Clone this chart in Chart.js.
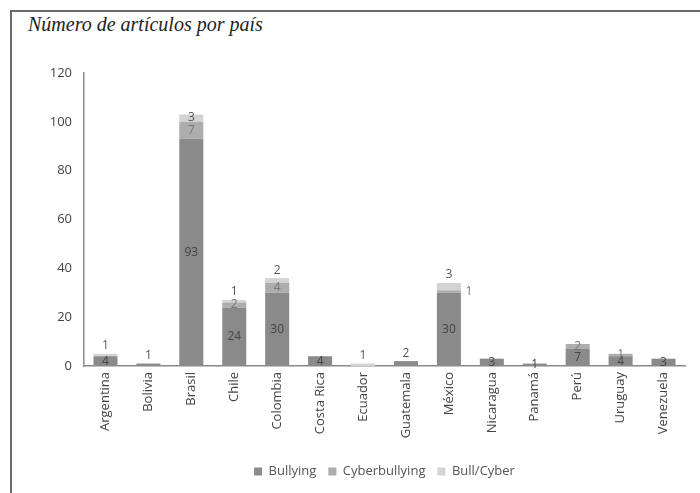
<!DOCTYPE html>
<html>
<head>
<meta charset="utf-8">
<script src="https://cdn.jsdelivr.net/npm/chart.js@4.4.0/dist/chart.umd.min.js"></script>
<style>
  html, body { margin: 0; padding: 0; background: #fff; }
  #wrap { position: relative; width: 700px; height: 493px; overflow: hidden; }
  #frame { position: absolute; left: 10px; top: 10px; width: 700px; height: 500px;
           border-left: 2px solid #6a6a6a; border-top: 2px solid #6a6a6a; }
  #title { position: absolute; left: 28px; top: 13px; font-family: "Liberation Serif", serif;
           font-style: italic; font-size: 20px; color: #222; }
  #c { position: absolute; left: 0; top: 0; }
</style>
</head>
<body>
<div id="wrap">
  <div id="frame"></div>
  <div id="title">Número de artículos por país</div>
  <canvas id="c" width="700" height="493"></canvas>
</div>
<script>
var paises = ["Argentina", "Bolivia", "Brasil", "Chile", "Colombia", "Costa Rica", "Ecuador",
              "Guatemala", "México", "Nicaragua", "Panamá", "Perú", "Uruguay", "Venezuela"];
var bullying      = [4, 1, 93, 24, 30, 4, 0, 2, 30, 3, 1, 7, 4, 3];
var cyberbullying = [0, 0, 7, 2, 4, 0, 0, 0, 1, 0, 0, 2, 1, 0];
var bullCyber     = [1, 0, 3, 1, 2, 0, 1, 0, 3, 0, 0, 0, 0, 0];
var yTicks = [0, 20, 40, 60, 80, 100, 120];

var fontFam = "'Open Sans', 'Noto Sans', sans-serif";

// etiquetas de valores sobre/dentro de las barras
var etiquetas = {
  id: 'etiquetas',
  afterDatasetsDraw: function (chart) {
    var ctx = chart.ctx;
    ctx.save();
    ctx.font = '12px ' + fontFam;
    ctx.textAlign = 'center';
    ctx.textBaseline = 'middle';
    chart.data.datasets.forEach(function (ds, di) {
      var meta = chart.getDatasetMeta(di);
      meta.data.forEach(function (bar, i) {
        var v = ds.data[i];
        if (!v) return;
        var x = bar.x, y;
        var h = bar.base - bar.y;
        if (di === 2) {
          y = paises[i] === 'Brasil' ? bar.y + 3 : bar.y - 8;
          ctx.fillStyle = '#555';
        } else if (di === 1) {
          y = bar.y + h / 2;
          ctx.fillStyle = '#777';
          if (paises[i] === 'México') { x = bar.x + 20; }
        } else {
          var arriba = bullCyber[i] === 0 && cyberbullying[i] === 0 && v <= 2 && paises[i] !== 'Panamá';
          y = arriba ? bar.y - 8 : bar.y + h / 2;
          ctx.fillStyle = arriba ? '#555' : '#444';
        }
        ctx.fillText(String(v), x, y);
      });
    });
    ctx.restore();
  }
};

new Chart(document.getElementById('c'), {
  type: 'bar',
  data: {
    labels: paises,
    datasets: [
      { label: 'Bullying', data: bullying, backgroundColor: '#8a8a8a' },
      { label: 'Cyberbullying', data: cyberbullying, backgroundColor: '#adadad' },
      { label: 'Bull/Cyber', data: bullCyber, backgroundColor: '#d3d3d3' }
    ]
  },
  plugins: [etiquetas],
  options: {
    responsive: false,
    animation: false,
    layout: { padding: { left: 0, right: 15, top: 73, bottom: 5 } },
    datasets: { bar: { categoryPercentage: 1, barPercentage: 0.56 } },
    scales: {
      x: {
        stacked: true,
        grid: { display: false, drawTicks: false },
        border: { color: '#8a8a8a', width: 1.5 },
        ticks: { minRotation: 90, maxRotation: 90, autoSkip: false, padding: 6,
                 color: '#444', font: { family: fontFam, size: 13 } },
        afterFit: function (s) { s.height = 87; }
      },
      y: {
        stacked: true,
        min: 0, max: 120,
        grid: { display: false, drawTicks: false },
        border: { color: '#8a8a8a', width: 1.5 },
        afterBuildTicks: function (s) { s.ticks = yTicks.map(function (v) { return { value: v }; }); },
        ticks: { padding: 12, color: '#444', font: { family: fontFam, size: 13 } },
        afterFit: function (s) { s.width = 84; }
      }
    },
    plugins: {
      legend: {
        position: 'bottom',
        fullSize: false,
        labels: { boxWidth: 8, boxHeight: 8, padding: 12, color: '#555',
                  font: { family: fontFam, size: 13 } }
      },
      tooltip: { enabled: false }
    }
  }
});
</script>
</body>
</html>
